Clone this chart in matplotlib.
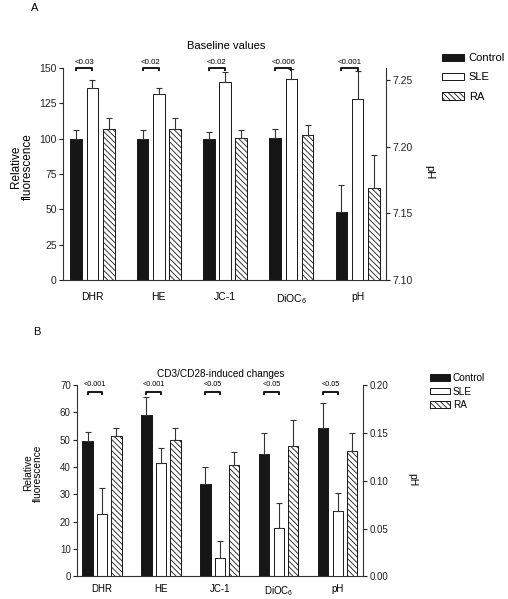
import numpy as np
import matplotlib
matplotlib.use("Agg")
from matplotlib import pyplot as plt

plt.rcParams['font.family'] = ['Liberation Sans', 'DejaVu Sans']
plt.rcParams['mathtext.fontset'] = 'custom'
plt.rcParams['mathtext.rm'] = 'Liberation Sans'
plt.rcParams['mathtext.it'] = 'Liberation Sans:italic'
plt.rcParams['hatch.linewidth'] = 0.6

# data
groups = ['DHR', 'HE', 'JC-1', 'DiOC$_6$', 'pH']
series = ['Control', 'SLE', 'RA']

# panel A: baseline values (first four on fluorescence axis, last on pH axis)
base_ctrl = [100, 100, 100, 100.4, 7.151]
base_sle = [135.8, 131.8, 140, 142.4, 7.236]
base_ra = [107, 107, 100.4, 102.8, 7.169]
base_ctrl_err = [5.8, 5.8, 4.4, 6.6, 0.020]
base_sle_err = [5.9, 4.0, 7.4, 6.6, 0.021]
base_ra_err = [7.6, 7.6, 5.9, 6.6, 0.025]
base_p = ['<0.03', '<0.02', '<0.02', '<0.006', '<0.001']

# panel B: CD3/CD28-induced changes
ind_ctrl = [49.5, 59.2, 33.8, 44.9, 0.155]
ind_sle = [23.0, 41.5, 6.7, 17.6, 0.068]
ind_ra = [51.4, 50.0, 40.8, 47.8, 0.131]
ind_ctrl_err = [3.4, 6.3, 6.3, 7.5, 0.026]
ind_sle_err = [9.5, 5.5, 6.3, 9.4, 0.019]
ind_ra_err = [2.8, 4.3, 4.7, 9.5, 0.019]
ind_p = ['<0.001', '<0.001', '<0.05', '<0.05', '<0.05']

colors = ['#161616', 'white', 'white']
hatches = [None, None, '\\\\\\\\\\\\']
offsets = [-0.245, 0, 0.245]


def panel(rect, vals, errs, pvals, ylim, yticks, ylim2, yticks2, xlim, fs, xpad, br_y, br_d, txt_y):
    ax = fig.add_axes(rect)
    ax2 = ax.twinx()
    x = np.arange(len(groups))
    width = 0.175
    ekw = dict(ecolor='#333333', elinewidth=0.8, capsize=2.2, capthick=0.8)
    handles = []
    for k in range(3):
        v = np.array(vals[k])
        e = np.array(errs[k])
        # first four groups on the left axis, pH on the right axis
        b = ax.bar(x[:4] + offsets[k], v[:4], width, color=colors[k],
                   edgecolor='#161616', linewidth=0.7, hatch=hatches[k],
                   yerr=[np.zeros(4), e[:4]], error_kw=ekw)
        ax2.bar(x[4] + offsets[k], v[4] - ylim2[0], width, bottom=ylim2[0], color=colors[k],
                edgecolor='#161616', linewidth=0.7, hatch=hatches[k],
                yerr=[[0], [e[4]]], error_kw=ekw)
        handles.append(b)
    for i, p in enumerate(pvals):
        x1 = x[i] + offsets[0]
        x2 = x[i] + offsets[1]
        ax.plot([x1, x1, x2, x2], [br_y - br_d, br_y, br_y, br_y - br_d], color='#161616', lw=1.4, clip_on=False)
        ax.text((x1 + x2) / 2, txt_y, p, ha='center', va='bottom', fontsize=fs - 1.8)
    ax.set_xlim(xlim)
    ax.set_ylim(ylim)
    ax.set_yticks(yticks)
    ax2.set_ylim(ylim2)
    ax2.set_yticks(yticks2)
    ax2.set_yticklabels(['%.2f' % t for t in yticks2])
    ax.set_xticks(x)
    ax.set_xticklabels(groups, fontsize=fs)
    ax.tick_params(axis='x', length=0, pad=xpad)
    for a in (ax, ax2):
        a.tick_params(axis='y', labelsize=fs, length=3, width=0.8, pad=1.5, colors='#222222')
        a.spines['top'].set_visible(False)
        for s in a.spines.values():
            s.set_linewidth(0.8)
            s.set_color('#333333')
    ax.spines['right'].set_visible(False)
    ax2.spines['left'].set_visible(False)
    ax2.spines['bottom'].set_visible(False)
    return ax, handles


fig = plt.figure(figsize=(5.08, 5.99), dpi=100)

axA, hA = panel([0.124, 0.5326, 0.636, 0.354],
                [base_ctrl, base_sle, base_ra], [base_ctrl_err, base_sle_err, base_ra_err], base_p,
                (0, 150), [0, 25, 50, 75, 100, 125, 150], (7.10, 7.259), [7.10, 7.15, 7.20, 7.25],
                (-0.445, 4.43), 7.5, 8.5, 150.3, 1.8, 151.5)
axB, hB = panel([0.1516, 0.0376, 0.563, 0.3197],
                [ind_ctrl, ind_sle, ind_ra], [ind_ctrl_err, ind_sle_err, ind_ra_err], ind_p,
                (0, 70), [0, 10, 20, 30, 40, 50, 60, 70], (0, 0.20), [0.00, 0.05, 0.10, 0.15, 0.20],
                (-0.424, 4.43), 7, 5.5, 67.6, 1.0, 68.8)

fig.legend(hA, series, loc='upper left', bbox_to_anchor=(0.870, 0.9115), frameon=False, fontsize=8,
           borderpad=0, borderaxespad=0, handlelength=2.0, handleheight=0.6, handletextpad=0.4, labelspacing=0.85)
fig.legend(hB, series, loc='upper left', bbox_to_anchor=(0.846, 0.377), frameon=False, fontsize=7.2,
           borderpad=0, borderaxespad=0, handlelength=2.0, handleheight=0.6, handletextpad=0.3, labelspacing=0.35)

fig.text(0.069, 0.987, 'A', fontsize=8, ha='center', va='center')
fig.text(0.073, 0.446, 'B', fontsize=8, ha='center', va='center')
fig.text(0.445, 0.923, 'Baseline values', fontsize=8, ha='center', va='center')
fig.text(0.435, 0.376, 'CD3/CD28-induced changes', fontsize=7.2, ha='center', va='center')
fig.text(0.043, 1 - 167 / 599, 'Relative\nfluorescence', fontsize=8.5, rotation=90, ha='center', va='center', linespacing=1.0)
fig.text(0.065, 1 - 473 / 599, 'Relative\nfluorescence', fontsize=7.3, rotation=90, ha='center', va='center', linespacing=1.0)
fig.text(0.846, 1 - 172 / 599, 'pH', fontsize=8, rotation=270, ha='center', va='center')
fig.text(0.811, 1 - 480 / 599, 'pH', fontsize=7.5, rotation=270, ha='center', va='center')

plt.savefig('out.png', dpi=100)
